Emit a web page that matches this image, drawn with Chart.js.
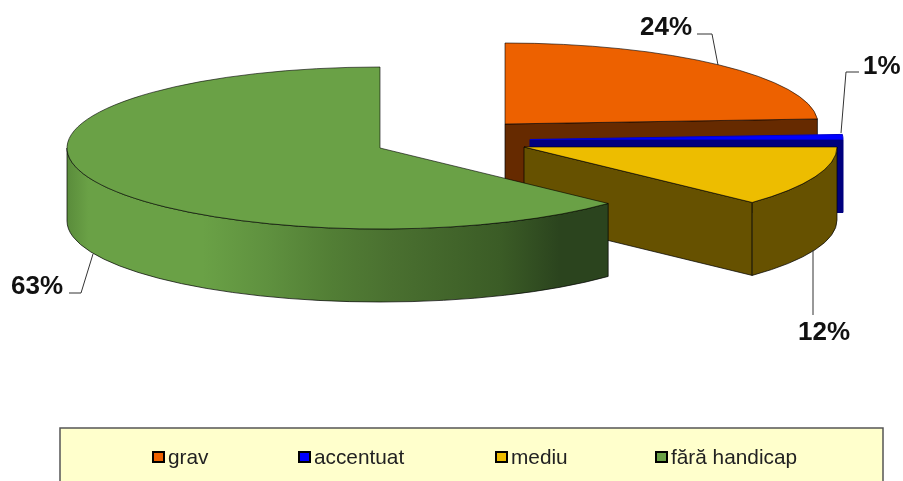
<!DOCTYPE html>
<html>
<head>
<meta charset="utf-8">
<style>html,body{margin:0;padding:0;background:#fff}canvas{display:block;filter:blur(0.4px)}</style>
<script src="https://cdn.jsdelivr.net/npm/chart.js@4"></script>
</head>
<body>
<canvas id="c" width="903" height="481"></canvas>
<script>
const categories = ['grav', 'accentuat', 'mediu', 'fără handicap'];
const values = [24, 1, 12, 63];

const topColors = ['#ED6100', '#0000FF', '#EDBD00', '#6AA146'];
const sideColors = ['#662A00', '#00007F', '#665100', null];
const apexes = [[505, 124], [530, 139.5], [524, 147], [380, 148]];
const radiusX = 313, radiusY = 81, depth = 73;
const labelStyles = [
  {x: 640, y: 35, line: [[697,34],[712,34],[718,65]]},
  {x: 863, y: 74, line: [[859,72],[846,72],[841,133]]},
  {x: 798, y: 340, line: [[813,250],[813,315]]},
  {x: 11, y: 294, line: [[69,293],[81,293],[93,254]]}
];
const legendX = [152, 298, 495, 655];
const FONT = '"Liberation Sans", Arial, sans-serif';

function greenSide(ctx) {
  const g = ctx.createLinearGradient(67, 0, 608, 0);
  g.addColorStop(0, '#5A8C3B');
  g.addColorStop(0.04, '#6AA146');
  g.addColorStop(0.25, '#6AA146');
  g.addColorStop(0.37, '#5F913F');
  g.addColorStop(0.49, '#527E35');
  g.addColorStop(0.60, '#4A7030');
  g.addColorStop(0.80, '#3B5C26');
  g.addColorStop(0.91, '#2B441E');
  g.addColorStop(1, '#2B441E');
  return g;
}

const pie3d = {
  id: 'pie3d',
  beforeDraw(chart) {
    const ctx = chart.ctx;
    ctx.save();
    ctx.fillStyle = '#FFFFCC';
    ctx.strokeStyle = '#555';
    ctx.lineWidth = 1.5;
    ctx.fillRect(60, 428, 823, 60);
    ctx.strokeRect(60, 428, 823, 60);
    ctx.restore();
  },
  beforeDatasetsDraw(chart) {
    const ctx = chart.ctx;
    const arcs = chart.getDatasetMeta(0).data;
    arcs.forEach((arc, i) => {
      const [ax, ay] = apexes[i];
      const a0 = arc.startAngle, a1 = arc.endAngle;
      const side = i === 3 ? greenSide(ctx) : sideColors[i];
      ctx.save();
      ctx.fillStyle = side;
      ctx.strokeStyle = i === 1 ? side : 'rgba(0,0,0,0.7)';
      ctx.lineWidth = 1;
      ctx.lineJoin = 'round';
      // radial wall on the clockwise end of the slice, when it faces the viewer
      if (Math.cos(a1) > -1 && Math.sin(a1 + Math.PI / 2) > 0.001) {
        const ex = ax + radiusX * Math.cos(a1), ey = ay + radiusY * Math.sin(a1);
        ctx.beginPath();
        ctx.moveTo(ax, ay); ctx.lineTo(ex, ey);
        ctx.lineTo(ex, ey + depth); ctx.lineTo(ax, ay + depth);
        ctx.closePath(); ctx.fill(); ctx.stroke();
      }
      // curved outer wall, front half only
      const s = Math.max(a0, 0), e = Math.min(a1, Math.PI);
      if (e > s) {
        ctx.beginPath();
        ctx.ellipse(ax, ay, radiusX, radiusY, 0, s, e);
        ctx.ellipse(ax, ay + depth, radiusX, radiusY, 0, e, s, true);
        ctx.closePath(); ctx.fill(); ctx.stroke();
      }
      // top face, drawn by the library's arc element under a squash transform
      ctx.save();
      ctx.translate(ax, ay);
      ctx.scale(1, radiusY / radiusX);
      ctx.translate(-arc.x, -arc.y);
      arc.draw(ctx);
      ctx.restore();
      ctx.strokeStyle = i === 1 ? '#0000CC' : 'rgba(0,0,0,0.6)';
      ctx.beginPath();
      ctx.moveTo(ax, ay);
      ctx.ellipse(ax, ay, radiusX, radiusY, 0, a0, a1);
      ctx.closePath();
      ctx.stroke();
      ctx.restore();
    });
    return false;
  },
  afterDraw(chart) {
    const ctx = chart.ctx;
    ctx.save();
    // value labels with leader lines
    ctx.textBaseline = 'alphabetic';
    ctx.textAlign = 'left';
    values.forEach((v, i) => {
      const st = labelStyles[i];
      ctx.strokeStyle = '#333';
      ctx.lineWidth = 1;
      ctx.beginPath();
      st.line.forEach((p, k) => k ? ctx.lineTo(p[0], p[1]) : ctx.moveTo(p[0], p[1]));
      ctx.stroke();
      ctx.fillStyle = '#111';
      ctx.font = 'bold 26px ' + FONT;
      ctx.fillText(v + '%', st.x, st.y);
    });
    // legend
    ctx.textBaseline = 'middle';
    categories.forEach((name, i) => {
      const x = legendX[i];
      ctx.fillStyle = topColors[i];
      ctx.strokeStyle = '#000';
      ctx.lineWidth = 2;
      ctx.fillRect(x + 1, 452, 11, 10);
      ctx.strokeRect(x + 1, 452, 11, 10);
      ctx.fillStyle = '#222';
      ctx.font = '20.8px ' + FONT;
      ctx.fillText(name, x + 16, 458);
    });
    ctx.restore();
  }
};

new Chart(document.getElementById('c'), {
  type: 'pie',
  data: {
    labels: categories,
    datasets: [{ data: values, backgroundColor: topColors, borderWidth: 0 }]
  },
  options: {
    responsive: false,
    animation: false,
    radius: radiusX,
    plugins: { legend: { display: false }, tooltip: { enabled: false } }
  },
  plugins: [pie3d]
});
</script>
</body>
</html>
